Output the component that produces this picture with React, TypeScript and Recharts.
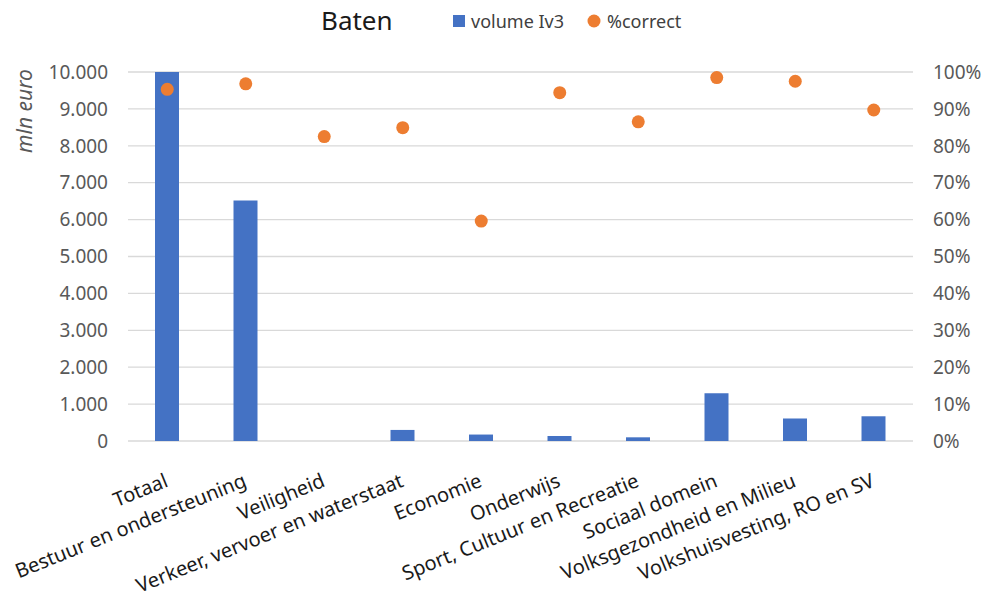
import React from 'react';
import { ComposedChart, Bar, Line, XAxis, YAxis, CartesianGrid } from 'recharts';

const categories = [
  'Totaal',
  'Bestuur en ondersteuning',
  'Veiligheid',
  'Verkeer, vervoer en waterstaat',
  'Economie',
  'Onderwijs',
  'Sport, Cultuur en Recreatie',
  'Sociaal domein',
  'Volksgezondheid en Milieu',
  'Volkshuisvesting, RO en SV',
];
const volumeIv3 = [10000, 6520, 0, 300, 175, 135, 100, 1295, 610, 670];
const pctCorrect = [95.3, 96.8, 82.5, 84.9, 59.6, 94.4, 86.5, 98.5, 97.5, 89.7];
const leftTicks = [0, 1000, 2000, 3000, 4000, 5000, 6000, 7000, 8000, 9000, 10000];
const rightTicks = [0, 10, 20, 30, 40, 50, 60, 70, 80, 90, 100];
const chartTitle = 'Baten';
const seriesNames = ['volume Iv3', '%correct'];
const leftAxisLabel = 'mln euro';

const BLUE = '#4472C4';
const ORANGE = '#ED7D31';
const FONT = 'Noto Sans';

const data = categories.map((name, i) => ({ name, volume: volumeIv3[i], pct: pctCorrect[i] }));

const fmtThousands = (v: number) => String(v).replace(/\B(?=(\d{3})+(?!\d))/g, '.');

const XTick = (props: any) => {
  const { x, y, payload } = props;
  const bx = x + 2;
  const by = y + 45;
  return (
    <text
      x={bx}
      y={by}
      transform={`rotate(-22 ${bx} ${by})`}
      textAnchor="end"
      fontSize={20}
      fontFamily={FONT}
      fill="#1a1a1a"
    >
      {payload.value}
    </text>
  );
};

export default function App() {
  return (
    <div style={{ position: 'relative', width: 984, height: 596, background: '#fff' }}>
      <style>{`body{margin:0}`}</style>
      <ComposedChart width={984} height={596} data={data} margin={{ top: 72, right: 0, bottom: 0, left: 0 }}>
        <CartesianGrid yAxisId="left" vertical={false} stroke="#d9d9d9" strokeWidth={1.3} />
        <XAxis
          dataKey="name"
          interval={0}
          height={155}
          axisLine={false}
          tickLine={false}
          tickSize={0}
          tickMargin={0}
          tick={<XTick />}
        />
        <YAxis
          yAxisId="left"
          orientation="left"
          width={128}
          domain={[0, 10000]}
          ticks={leftTicks}
          tickFormatter={fmtThousands}
          axisLine={false}
          tickLine={false}
          tickSize={0}
          tickMargin={20}
          tick={{ fontSize: 19, fill: '#595959', fontFamily: FONT }}
        />
        <YAxis
          yAxisId="right"
          orientation="right"
          width={71}
          domain={[0, 100]}
          ticks={rightTicks}
          tickFormatter={(v: number) => `${v}%`}
          axisLine={false}
          tickLine={false}
          tickSize={0}
          tickMargin={20}
          tick={{ fontSize: 19, fill: '#595959', fontFamily: FONT, textAnchor: 'start' }}
        />
        <Bar yAxisId="left" dataKey="volume" name={seriesNames[0]} fill={BLUE} barSize={24} isAnimationActive={false} />
        <Line
          yAxisId="right"
          dataKey="pct"
          name={seriesNames[1]}
          stroke="none"
          strokeWidth={0}
          dot={{ r: 6.5, fill: ORANGE, stroke: 'none' }}
          activeDot={false}
          isAnimationActive={false}
        />
      </ComposedChart>
      <svg
        width={984}
        height={596}
        style={{ position: 'absolute', left: 0, top: 0, pointerEvents: 'none' }}
      >
        <text x={321} y={30} fontSize={26} fontFamily={FONT} fill="#1a1a1a">
          {chartTitle}
        </text>
        <rect x={453} y={15} width={12} height={12} fill={BLUE} />
        <text x={471} y={28} fontSize={18} fontFamily={FONT} fill="#404040">
          {seriesNames[0]}
        </text>
        <circle cx={594} cy={21} r={6.5} fill={ORANGE} />
        <text x={607} y={28} fontSize={18} fontFamily={FONT} fill="#404040">
          {seriesNames[1]}
        </text>
        <text
          x={0}
          y={0}
          transform="translate(32 111) rotate(-90)"
          textAnchor="middle"
          fontSize={21}
          fontStyle="italic"
          fontFamily={FONT}
          fill="#595959"
        >
          {leftAxisLabel}
        </text>
      </svg>
    </div>
  );
}
